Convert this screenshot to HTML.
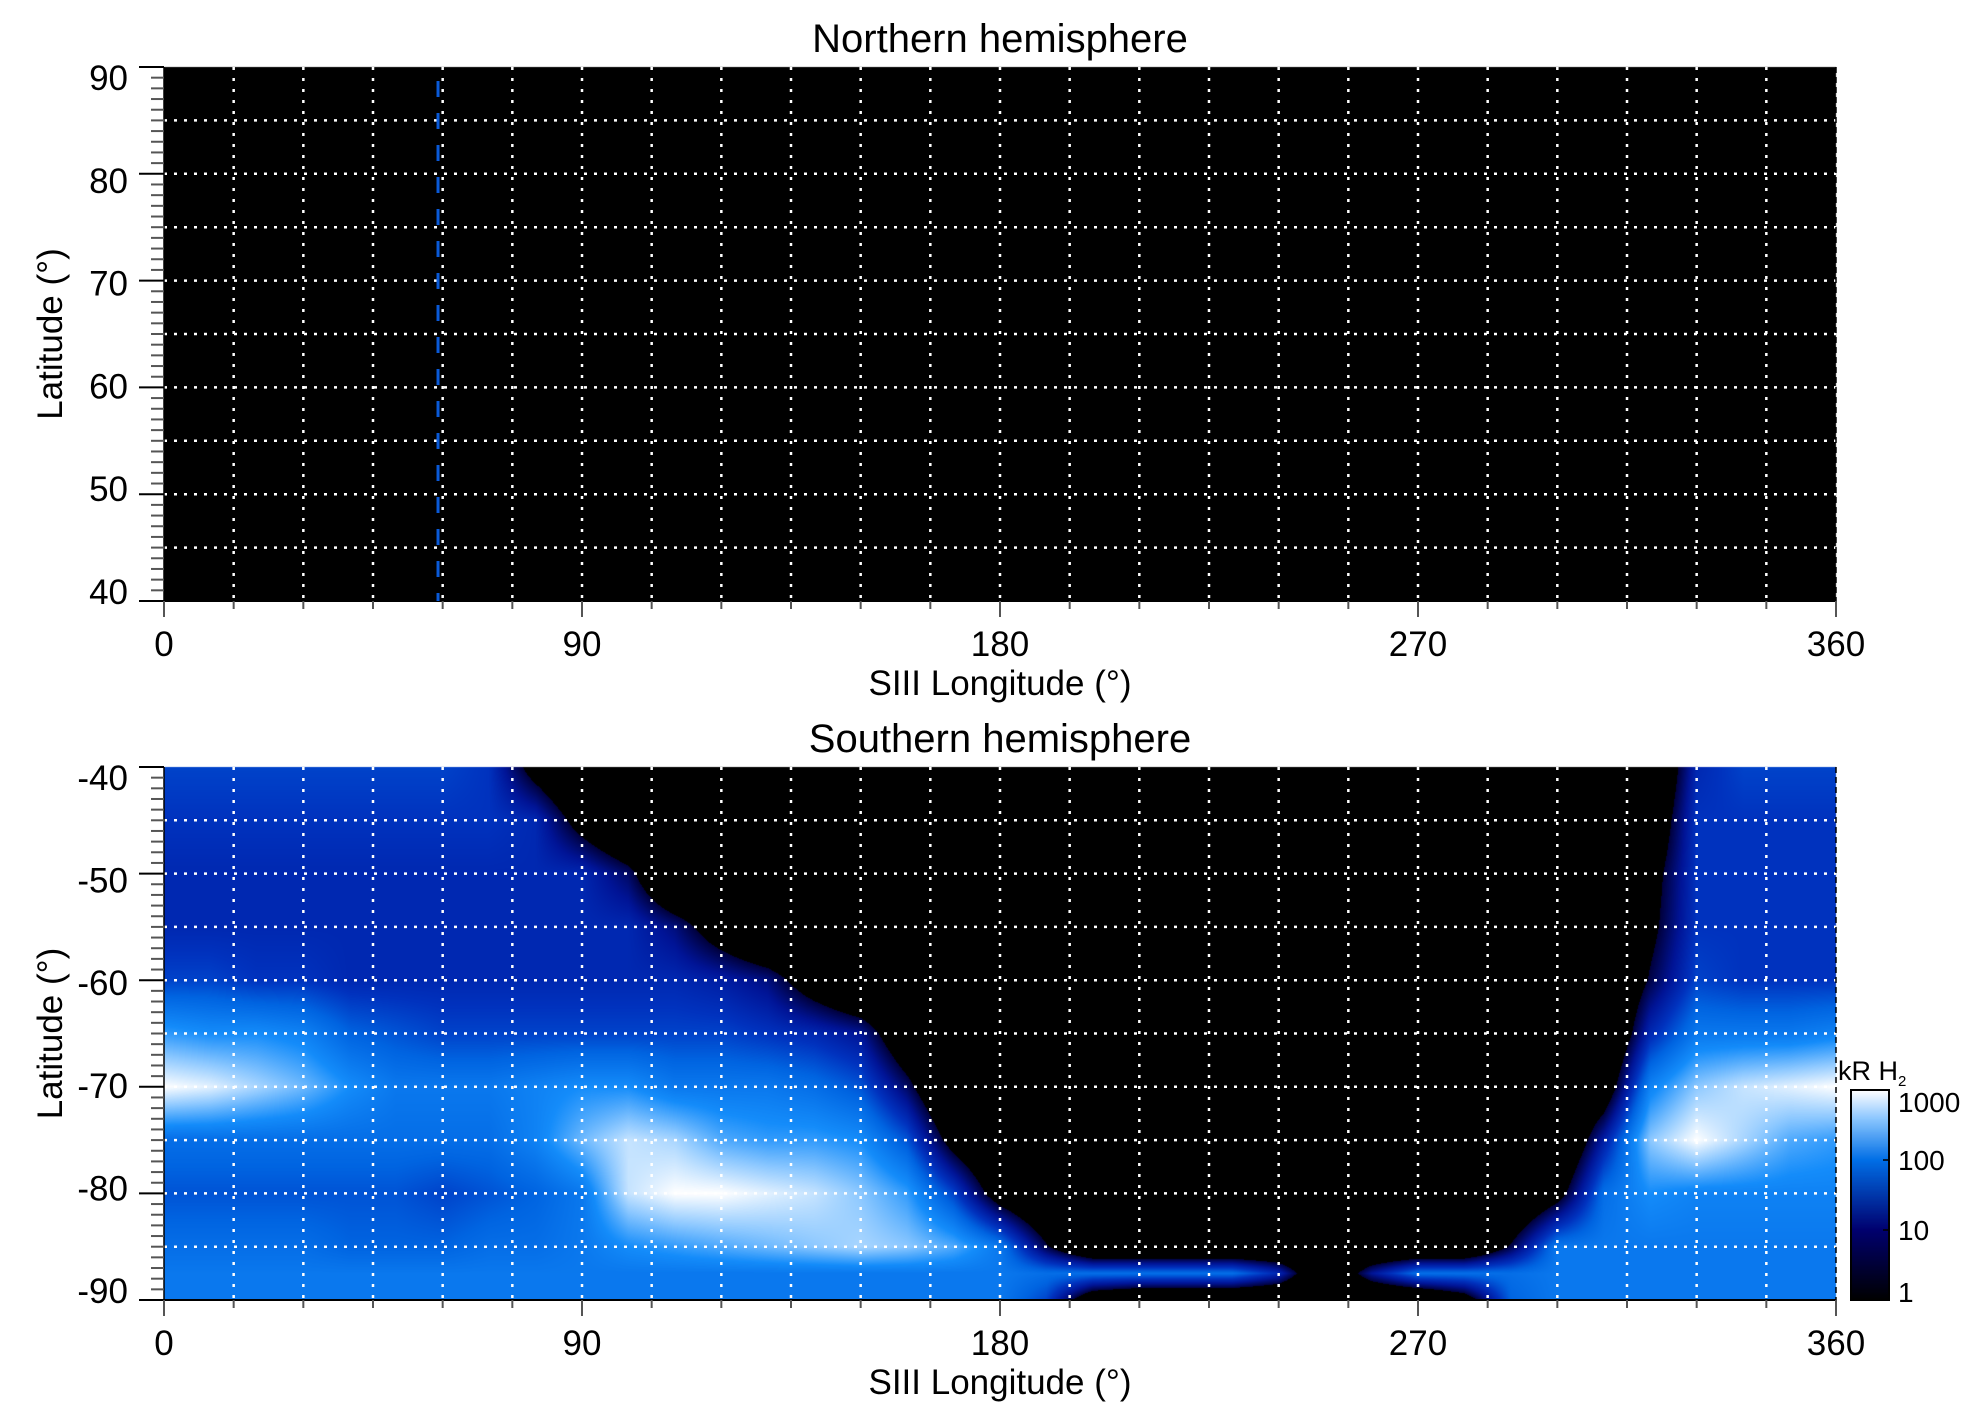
<!DOCTYPE html>
<html><head><meta charset="utf-8">
<style>
html,body{margin:0;padding:0;background:#fff;}
#wrap{position:relative;width:1983px;height:1423px;overflow:hidden;font-family:"Liberation Sans",sans-serif;}
canvas{position:absolute;left:0;top:0;}
svg{position:absolute;left:0;top:0;}
text{font-family:"Liberation Sans",sans-serif;fill:#000;}
</style></head>
<body>
<div id="wrap">
<canvas id="heat" width="1983" height="1423"></canvas>
<svg id="svg" width="1983" height="1423"></svg>
</div>
<script>
// ---- data ----
const lonCols = [0,10,20,30,40,50,60,70,80,90,100,110,120,130,140,150,160,170,180,190,200,210,220,230,240,250,260,270,280,290,300,310,320,330,340,350,360];
const latRows = [-40,-45,-50,-55,-60,-65,-70,-75,-80,-85,-87.5,-90];
// log10(kR) brightness per row (lon 0..360 step 10)
const rowM40 = [1.6,1.6,1.6,1.6,1.6,1.6,1.6,1.5,0.6,0,0,0,0,0,0,0,0,0,0,0,0,0,0,0,0,0,0,0,0,0,0,0,0,1.4,1.6,1.6,1.6];
const rowM45 = [1.5,1.5,1.5,1.5,1.5,1.5,1.5,1.5,1.4,0.6,0,0,0,0,0,0,0,0,0,0,0,0,0,0,0,0,0,0,0,0,0,0,0.3,1.5,1.5,1.5,1.5];
const rowM50 = [1.4,1.4,1.4,1.4,1.4,1.4,1.4,1.4,1.4,1.4,1.0,0,0,0,0,0,0,0,0,0,0,0,0,0,0,0,0,0,0,0,0,0,0.6,1.5,1.5,1.5,1.5];
const rowM55 = [1.4,1.4,1.4,1.4,1.4,1.4,1.4,1.4,1.4,1.4,1.4,1.1,0.5,0,0,0,0,0,0,0,0,0,0,0,0,0,0,0,0,0,0,0,0.7,1.5,1.5,1.5,1.5];
const rowM60 = [1.6,1.6,1.5,1.5,1.4,1.4,1.4,1.4,1.4,1.4,1.4,1.4,1.3,1.1,0.5,0,0,0,0,0,0,0,0,0,0,0,0,0,0,0,0,0,0.9,1.6,1.5,1.5,1.5];
const rowM65 = [2.3,2.2,2.2,2.1,1.8,1.7,1.6,1.6,1.6,1.6,1.6,1.6,1.6,1.5,1.4,1.2,0.3,0,0,0,0,0,0,0,0,0,0,0,0,0,0,0,1.4,2.0,2.0,2.0,2.1];
const rowM70 = [3.0,2.9,2.7,2.5,2.2,2.0,2.0,2.0,2.1,2.2,2.2,2.0,2.0,2.0,1.9,1.7,1.0,0,0,0,0,0,0,0,0,0,0,0,0,0,0,0.4,2.1,2.6,2.8,2.9,3.0];
const rowM75 = [1.9,1.9,1.9,1.9,1.9,1.9,1.9,1.9,2.1,2.5,2.8,2.7,2.4,2.3,2.3,2.2,1.7,0.6,0,0,0,0,0,0,0,0,0,0,0,0,0,1.3,2.6,3.0,2.7,2.4,2.3];
const rowM80 = [1.7,1.7,1.7,1.7,1.7,1.7,1.6,1.7,1.8,2.0,2.8,3.0,3.0,2.9,2.8,2.6,2.3,1.6,0.5,0,0,0,0,0,0,0,0,0,0,0,0.6,1.9,2.2,2.1,2.1,2.1,2.1];
const rowM85 = [1.9,1.9,1.9,1.9,1.8,1.8,1.8,1.9,1.9,2.0,2.2,2.3,2.4,2.5,2.6,2.7,2.6,2.4,2.0,0.9,0,0,0,0,0,0,0,0,0,0.9,2.0,2.0,2.0,2.0,2.0,2.0,2.0];
const rowM875= [2.0,2.0,2.0,2.0,2.0,2.0,2.0,2.0,2.0,2.0,2.0,2.0,2.0,2.0,2.0,2.0,2.0,2.0,2.0,1.9,1.9,1.9,1.9,1.9,1.4,0,1.2,1.9,1.9,1.9,2.0,2.0,2.0,2.0,2.0,2.0,2.0];
const rowM90 = [2.0,2.0,2.0,2.0,2.0,2.0,2.0,2.0,2.0,2.0,2.0,2.0,2.0,2.0,2.0,2.0,2.0,2.0,2.0,1.6,0.3,0,0,0,0,0,0,0,0.5,1.8,2.0,2.0,2.0,2.0,2.0,2.0,2.0];
const grid = [rowM40,rowM45,rowM50,rowM55,rowM60,rowM65,rowM70,rowM75,rowM80,rowM85,rowM875,rowM90];
const northLon = [59];           // dashed meridian in northern panel
const xTicks = [0,90,180,270,360];
const northYTicks = [40,50,60,70,80,90];
const southYTicks = [-40,-50,-60,-70,-80,-90];
const cbTicks = [1,10,100,1000];

// ---- layout ----
const X0=164, X1=1836;
const top1=67, bot1=601, top2=767, bot2=1300;
const xs = lon => X0 + (lon/360)*(X1-X0);
const yN = lat => top1 + (90-lat)/50*(bot1-top1);
const yS = lat => top2 + (-40-lat)/50*(bot2-top2);

// colormap
const cmap=[[0.85,[0,0,60]],[1.2,[0,20,150]],[1.5,[0,50,190]],[1.8,[0,100,225]],[2.2,[20,140,250]],[2.6,[140,200,255]],[3.0,[255,255,255]]];
function col(v){
  if(v<=0.85) return [0,0,0];
  for(let i=1;i<cmap.length;i++){ if(v<=cmap[i][0]){const a=cmap[i-1],b=cmap[i];const t=(v-a[0])/(b[0]-a[0]);return a[1].map((c,k)=>c+(b[1][k]-c)*t);} }
  return [255,255,255];
}
function cbcol(v){
  const m=[[0,[0,0,0]],[1,[0,0,110]],[2,[0,110,230]],[2.6,[140,200,255]],[3,[255,255,255]]];
  for(let i=1;i<m.length;i++){ if(v<=m[i][0]){const a=m[i-1],b=m[i];const t=(v-a[0])/(b[0]-a[0]);return a[1].map((c,k)=>c+(b[1][k]-c)*t);} }
  return [255,255,255];
}
function sample(lon,lat){
  let fi=lon/10; let i=Math.min(Math.floor(fi),lonCols.length-2); let tx=fi-i;
  let j=0; while(j<latRows.length-2 && lat<latRows[j+1]) j++;
  let ty=(latRows[j]-lat)/(latRows[j]-latRows[j+1]); ty=Math.max(0,Math.min(1,ty));
  const a=grid[j][i],b=grid[j][i+1],c=grid[j+1][i],d=grid[j+1][i+1];
  return (a*(1-tx)+b*tx)*(1-ty)+(c*(1-tx)+d*tx)*ty;
}
const cv=document.getElementById('heat'); const ctx=cv.getContext('2d');
ctx.fillStyle='#000'; ctx.fillRect(X0,top1,X1-X0,bot1-top1);
const W=X1-X0,H=bot2-top2; const img=ctx.createImageData(W,H);
for(let py=0;py<H;py++){const lat=-40-(py+0.5)/H*50;
  for(let px=0;px<W;px++){const lon=(px+0.5)/W*360;const c=col(sample(lon,lat));const o=(py*W+px)*4;
    img.data[o]=c[0];img.data[o+1]=c[1];img.data[o+2]=c[2];img.data[o+3]=255;}}
ctx.putImageData(img,X0,top2);
// colorbar
const cbX=1851,cbW=38,cbT=1090,cbB=1300;
for(let py=cbT;py<cbB;py++){const v=3*(cbB-py)/(cbB-cbT);const c=cbcol(v);ctx.fillStyle=`rgb(${c[0]|0},${c[1]|0},${c[2]|0})`;ctx.fillRect(cbX,py,cbW,1);}

// ---- svg overlay ----
const NS='http://www.w3.org/2000/svg'; const svg=document.getElementById('svg');
function el(tag,attrs,name){const e=document.createElementNS(NS,tag);for(const k in attrs)e.setAttribute(k,attrs[k]);
  
  
  svg.appendChild(e);return e;}
function txt(s,x,y,size,anchor,name,extra){const t=el('text',Object.assign({x:x,y:y,'font-size':size,'text-anchor':anchor},extra||{}),name);t.textContent=s;return t;}

function panel(top,bot,yfun,yTicks,latMin,latMax,prefix){
  for(let lon=15;lon<360;lon+=15) el('line',{x1:xs(lon),x2:xs(lon),y1:top,y2:bot,stroke:'#fff','stroke-width':2.5,'stroke-dasharray':'3 8'},prefix+'-grid-lon');
  for(let lat=latMin+5;lat<latMax;lat+=5) el('line',{x1:X0,x2:X1,y1:yfun(lat),y2:yfun(lat),stroke:'#fff','stroke-width':2.5,'stroke-dasharray':'3 7'},prefix+'-grid-lat');
  el('line',{x1:X0,x2:X0,y1:top,y2:bot,stroke:'#000','stroke-width':1.5},prefix+'-y-axis');
  el('line',{x1:X0,x2:X1,y1:bot,y2:bot,stroke:'#000','stroke-width':2},prefix+'-x-axis');
  el('line',{x1:X1,x2:X1,y1:top,y2:bot,stroke:'#000','stroke-width':1.5,'stroke-dasharray':'6 4'},prefix+'-right-axis');
  for(let lat=latMin;lat<=latMax;lat++){const major=(lat%10===0);
    el('line',{x1:major?139:151,x2:X0,y1:yfun(lat),y2:yfun(lat),stroke:major?'#000':'#555','stroke-width':2},prefix+'-y-tick');}
  yTicks.forEach(v=>{const y=yfun(v);const t=(y-top)/(bot-top);txt(String(v),128,y+13+10*(1-2*t),35,'end',prefix+'-y-tick-label');});
  for(let lon=0;lon<=360;lon+=15){const major=(lon%90===0);
    el('line',{x1:xs(lon),x2:xs(lon),y1:bot,y2:bot+(major?16:8),stroke:'#555','stroke-width':2},prefix+'-x-tick');}
  xTicks.forEach(v=>txt(String(v),xs(v),bot+55,35,'middle',prefix+'-x-tick-label'));
  txt('SIII Longitude (°)',(X0+X1)/2,bot+94,35,'middle',prefix+'-x-axis-title');
  const cy=(top+bot)/2; txt('Latitude (°)',62,cy,35,'middle',prefix+'-y-axis-title',{transform:`rotate(-90 62 ${cy})`});
}
panel(top1,bot1,yN,northYTicks,40,90,'north');
panel(top2,bot2,yS,southYTicks,-90,-40,'south');
northLon.forEach(l=>el('line',{x1:xs(l),x2:xs(l),y1:top1+14,y2:bot1,stroke:'#0a5ad8','stroke-width':3,'stroke-dasharray':'16 16'},'north-meridian-line'));
txt('Northern hemisphere',(X0+X1)/2,52,40,'middle','north-title');
txt('Southern hemisphere',(X0+X1)/2,752,40,'middle','south-title');
el('rect',{x:cbX,y:cbT,width:cbW,height:cbB-cbT,fill:'none',stroke:'#000','stroke-width':2},'colorbar');
cbTicks.forEach(v=>{const y=cbB-Math.log10(v)/3*(cbB-cbT);
  el('line',{x1:cbX+cbW-6,x2:cbX+cbW,y1:y,y2:y,stroke:'#000','stroke-width':1.5},'colorbar-tick');
  txt(String(v),1898,Math.min(Math.max(y+10,cbT+22),cbB+2),28,'start','colorbar-tick-label');});
const lab=txt('kR H',1838,1080,27,'start','colorbar-title');
const sub=document.createElementNS(NS,'tspan');sub.setAttribute('font-size','15');sub.setAttribute('dy','6');sub.textContent='2';lab.appendChild(sub);
</script>
</body></html>
